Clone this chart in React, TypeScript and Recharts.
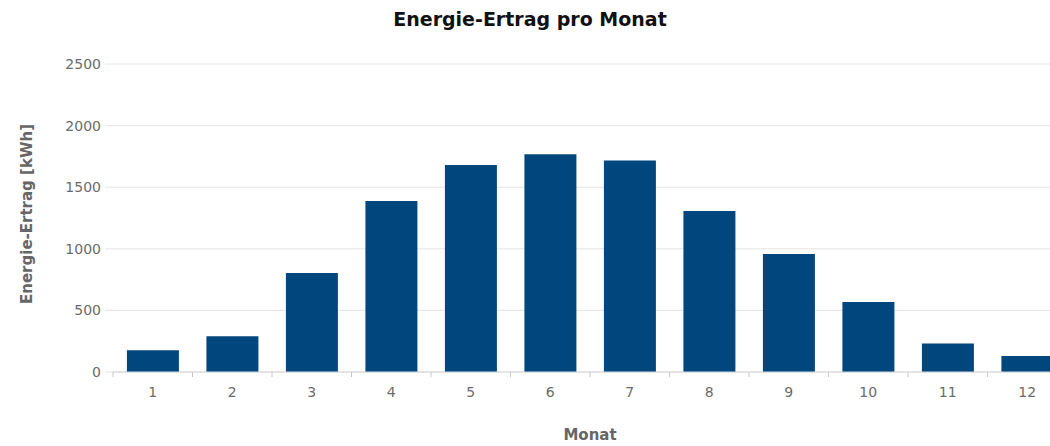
import { BarChart, Bar, XAxis, YAxis, CartesianGrid } from 'recharts'

const MONTHS = ['1', '2', '3', '4', '5', '6', '7', '8', '9', '10', '11', '12']
const ERTRAG = [176, 291, 803, 1388, 1680, 1767, 1716, 1307, 958, 568, 231, 130]
const Y_TICKS = [0, 500, 1000, 1500, 2000, 2500]

const data = MONTHS.map((m, i) => ({ monat: m, ertrag: ERTRAG[i] }))

const FONT = '"DejaVu Sans", Verdana, sans-serif'
const BAND = 954 / 12

function MonthTick({ x, y, payload }: { x?: number; y?: number; payload?: { value: string } }) {
  return (
    <g>
      <line x1={x! - BAND / 2} x2={x! - BAND / 2} y1={y} y2={y! + 5} stroke="#c8c8c8" />
      <text x={x} y={y! + 25} textAnchor="middle" fontSize={14} fill="#6b6b6b" fontFamily={FONT}>
        {payload?.value}
      </text>
    </g>
  )
}

export default function App() {
  return (
    <div style={{ position: 'fixed', left: 0, top: 0, width: 1050, height: 446, overflow: 'hidden', background: '#fff', fontFamily: FONT }}>
      <div style={{ position: 'absolute', left: 0, width: 1060, top: 8, textAlign: 'center', fontSize: 19, fontWeight: 'bold', color: '#111' }}>
        Energie-Ertrag pro Monat
      </div>
      <div
        style={{
          position: 'absolute', left: 27, top: 214, transform: 'translate(-50%, -50%) rotate(-90deg)',
          whiteSpace: 'nowrap', fontSize: 15, fontWeight: 'bold', color: '#666',
        }}
      >
        Energie-Ertrag [kWh]
      </div>
      <div style={{ position: 'absolute', left: 590, top: 435, transform: 'translate(-50%, -50%)', fontSize: 15, fontWeight: 'bold', color: '#666' }}>
        Monat
      </div>
      <BarChart width={1080} height={446} data={data} margin={{ top: 64, right: 13, left: 0, bottom: 44 }} barCategoryGap="17.5%">
        <CartesianGrid horizontal vertical={false} stroke="#e4e4e4" />
        <XAxis
          dataKey="monat"
          tickLine={false}
          tickSize={0}
          tickMargin={0}
          axisLine={{ stroke: '#d6d6d6' }}
          tick={<MonthTick />}
          height={30}
          interval={0}
        />
        <YAxis
          domain={[0, 2500]}
          ticks={Y_TICKS}
          width={113}
          axisLine={false}
          tickSize={8}
          tickMargin={4}
          tickLine={{ stroke: '#e4e4e4' }}
          tick={{ fontSize: 14, fill: '#6b6b6b', fontFamily: FONT }}
        />
        <Bar dataKey="ertrag" fill="#01477e" isAnimationActive={false} />
      </BarChart>
    </div>
  )
}
